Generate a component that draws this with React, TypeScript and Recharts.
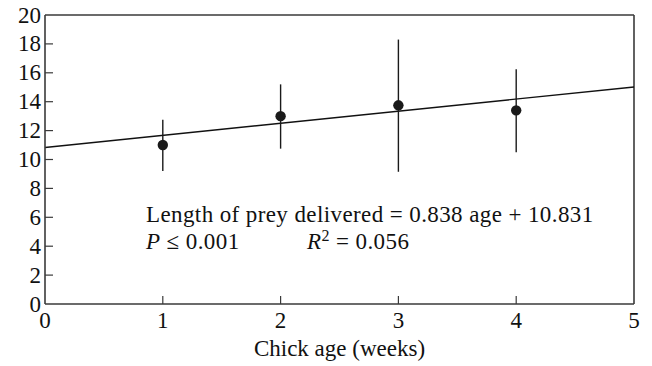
import { ScatterChart, Scatter, XAxis, YAxis, ErrorBar, ReferenceLine } from 'recharts';

// chick age (weeks) and mean length of prey delivered, with whisker ends
const weeks = [1, 2, 3, 4];
const meanLength = [11.0, 13.0, 13.75, 13.4];
const upperLength = [12.75, 15.2, 18.3, 16.25];
const lowerLength = [9.2, 10.75, 9.15, 10.5];

const xTicks = [0, 1, 2, 3, 4, 5];
const yTicks = [0, 2, 4, 6, 8, 10, 12, 14, 16, 18, 20];

// fitted regression
const slope = 0.838;
const intercept = 10.831;

const data = weeks.map((w, i) => ({
  age: w,
  len: meanLength[i],
  err: [meanLength[i] - lowerLength[i], upperLength[i] - meanLength[i]],
}));

const FONT = '"Liberation Serif", "Times New Roman", serif';
const AXIS = '#3a3a3a';
const FS = 23;

const XTick = (props: any) => {
  const { x, y, payload } = props;
  return (
    <g>
      {payload.value !== 0 && payload.value !== 5 && (
        <line x1={x} x2={x} y1={y} y2={y - 8} stroke={AXIS} strokeWidth={1.2} />
      )}
      <text x={x} y={y + 24} textAnchor="middle" fontFamily={FONT} fontSize={FS} fill="#111">
        {payload.value}
      </text>
    </g>
  );
};

const YTick = (props: any) => {
  const { x, y, payload } = props;
  return (
    <g>
      {payload.value !== 0 && payload.value !== 20 && (
        <line x1={x} x2={x + 8} y1={y} y2={y} stroke={AXIS} strokeWidth={1.2} />
      )}
      <text x={x - 4} y={y + 7.5} textAnchor="end" fontFamily={FONT} fontSize={FS} fill="#111">
        {payload.value}
      </text>
    </g>
  );
};

const Dot = (props: any) => <circle cx={props.cx} cy={props.cy} r={5.2} fill="#1a1a1a" />;

export default function App() {
  return (
    <div style={{ position: 'fixed', left: 0, top: 0, width: 652, height: 366, background: '#fff' }}>
      <ScatterChart width={652} height={366} margin={{ top: 15, right: 18, bottom: 0, left: 0 }}>
        <XAxis
          type="number"
          dataKey="age"
          domain={[0, 5]}
          ticks={xTicks}
          height={62}
          tickSize={0}
          tickMargin={0}
          tickLine={false}
          tick={<XTick />}
          axisLine={{ stroke: AXIS, strokeWidth: 1.6 }}
          label={{ value: 'Chick age (weeks)', position: 'insideBottom', offset: 10, fontFamily: FONT, fontSize: FS, fill: '#111' }}
        />
        <YAxis
          type="number"
          dataKey="len"
          domain={[0, 20]}
          ticks={yTicks}
          width={45}
          tickSize={0}
          tickMargin={0}
          tickLine={false}
          tick={<YTick />}
          axisLine={{ stroke: AXIS, strokeWidth: 1.6 }}
        />
        <ReferenceLine y={20} stroke={AXIS} strokeWidth={1.6} />
        <ReferenceLine x={5} stroke={AXIS} strokeWidth={1.6} />
        <ReferenceLine
          segment={[
            { x: 0, y: intercept },
            { x: 5, y: intercept + slope * 5 },
          ]}
          stroke="#111"
          strokeWidth={1.4}
        />
        <Scatter data={data} shape={<Dot />} isAnimationActive={false}>
          <ErrorBar dataKey="err" direction="y" width={0} stroke="#1a1a1a" strokeWidth={1.4} isAnimationActive={false} />
        </Scatter>
      </ScatterChart>
      <svg width={652} height={366} style={{ position: 'absolute', left: 0, top: 0, pointerEvents: 'none' }}>
        <text x={146} y={222} fontFamily={FONT} fontSize={FS} fill="#111" letterSpacing={0.4}>
          Length of prey delivered = 0.838 age + 10.831
        </text>
        <text x={146} y={249} fontFamily={FONT} fontSize={FS} fill="#111" letterSpacing={0.4}>
          <tspan fontStyle="italic">P</tspan> ≤ 0.001
        </text>
        <text x={307} y={249} fontFamily={FONT} fontSize={FS} fill="#111" letterSpacing={0.4}>
          <tspan fontStyle="italic">R</tspan>
          <tspan fontSize={16} dy={-8}>2</tspan>
          <tspan dy={8}> = 0.056</tspan>
        </text>
      </svg>
    </div>
  );
}
